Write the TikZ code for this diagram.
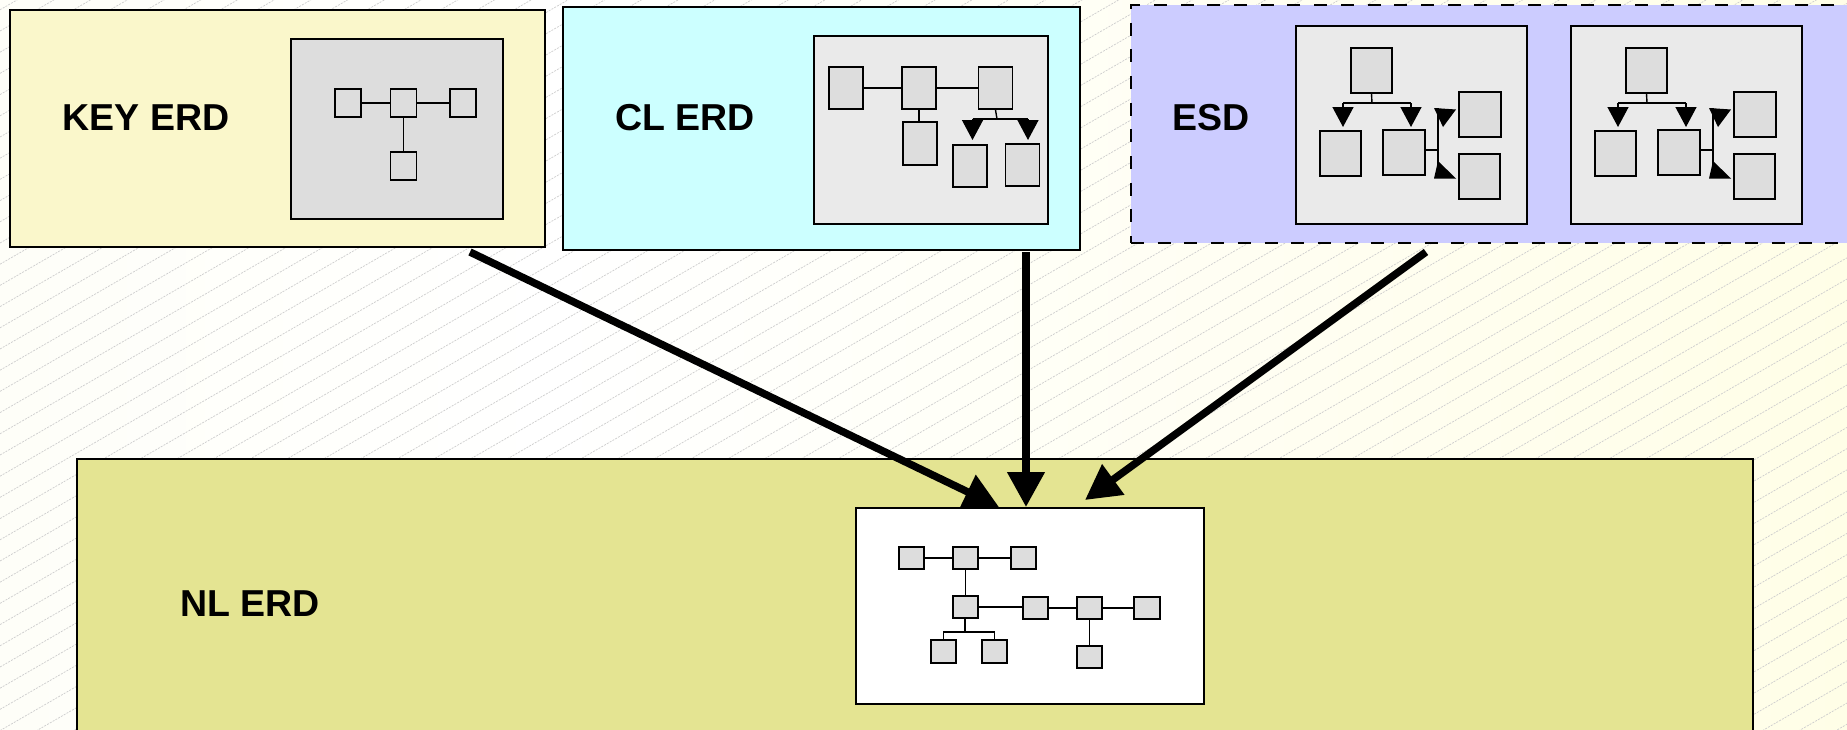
\documentclass[tikz,border=0pt]{standalone}
\usepackage{fontspec}
\setmainfont{Liberation Sans}
\usetikzlibrary{arrows.meta}

\definecolor{keyfill}{RGB}{250,247,203}
\definecolor{clfill}{RGB}{204,255,255}
\definecolor{esdfill}{RGB}{204,204,255}
\definecolor{nlfill}{RGB}{228,228,146}
\definecolor{sqfill}{RGB}{221,221,221}
\definecolor{panelfill}{RGB}{234,234,234}
\definecolor{hatch}{RGB}{205,205,205}
\definecolor{bgL}{RGB}{253,253,236}
\definecolor{bgR}{RGB}{255,253,214}

\pgfdeclarehorizontalshading{bgshade}{100bp}{color(0bp)=(bgL); color(40bp)=(white); color(100bp)=(bgR)}

\tikzset{
  area/.style={draw=black, line width=2pt, inner sep=0pt, anchor=north west},
  panel/.style={draw=black, line width=2pt, inner sep=0pt, anchor=north west},
  ent/.style={draw=black, fill=sqfill, line width=1.7pt, inner sep=0pt},
  conn/.style={line width=1.4pt},
  lbl/.style={font=\bfseries\fontsize{37.5}{40}\selectfont, anchor=base, inner sep=0pt},
  flow/.style={line width=7.5pt, -{Triangle[length=35pt,width=36pt]}},
  minitip/.style={line width=1.4pt, -{Triangle[length=20pt,width=21pt]}}
}

% one entity-structure panel of the ESD area
\newcommand{\esdpanel}[2]{%
  \begin{scope}[xshift=#2pt]
    \node[panel, fill=panelfill, minimum width=231pt, minimum height=198pt] (#1p) at (1295,25) {};
    \node[ent, minimum width=41pt, minimum height=45pt] (#1a) at (1371.5,70.5) {};
    \node[ent, minimum width=41pt, minimum height=45pt] (#1b) at (1340.5,153.5) {};
    \node[ent, minimum width=42pt, minimum height=45pt] (#1c) at (1404,152.5) {};
    \node[ent, minimum width=42pt, minimum height=45pt] (#1d) at (1480,114.5) {};
    \node[ent, minimum width=41pt, minimum height=45pt] (#1e) at (1479.5,176.5) {};
    \coordinate (#1bus) at (1372,103);
    \coordinate (#1bl) at (1343,103);
    \coordinate (#1br) at (1411,103);
    \coordinate (#1vt) at (1438,108);
    \coordinate (#1vb) at (1438,178);
    \draw[conn] (#1a.south) -- (#1bus);
    \draw[conn] (#1bl) -- (#1br);
    \draw[minitip] (#1bl) -- ++(0,24);
    \draw[minitip] (#1br) -- ++(0,24);
    \draw[conn] (#1vt) -- (#1vb);
    \draw[conn] (#1c.east |- 0,150) -- (1438,150);
    \fill (1434,108) -- (1456,109.5) -- (1443,127) -- cycle;
    \fill (1438,161) -- (1456,178.5) -- (1434,178.5) -- cycle;
  \end{scope}}

\begin{document}
\begin{tikzpicture}[x=1pt,y=-1pt]
  \useasboundingbox (0,0) rectangle (1847,729);

  % background: soft tint with fine diagonal hatching
  \begin{scope}
    \clip (0,0) rectangle (1847,729);
    \shade[shading=bgshade] (0,0) rectangle (1847,729);
    \foreach \i in {-1,...,86}{
      \pgfmathsetmacro{\c}{9.8+21.2*\i}
      \draw[hatch, line width=0.7pt, dash pattern=on 2pt off 1.2pt] (0,\c) -- (1847,\c-1066.4);
    }
  \end{scope}

  \begin{scope}
    \clip (0,0) rectangle (1847,729);

    % ---------- KEY ERD ----------
    \node[area, fill=keyfill, minimum width=535pt, minimum height=237pt] (key) at (9,9) {};
    \node[lbl] (keylbl) at (146,130) {KEY ERD};
    \node[panel, fill=sqfill, minimum width=212pt, minimum height=180pt] (keyp) at (290,38) {};
    \node[ent, minimum width=26pt, minimum height=28pt] (k1) at (348,103) {};
    \node[ent, minimum width=26pt, minimum height=28pt] (k2) at (403.5,103) {};
    \node[ent, minimum width=26pt, minimum height=28pt] (k3) at (463,103) {};
    \node[ent, minimum width=26pt, minimum height=28pt] (k4) at (403.5,166) {};
    \draw[conn] (k1.east) -- (k2.west);
    \draw[conn] (k2.east) -- (k3.west);
    \draw[conn] (k2.south) -- (k4.north);

    % ---------- CL ERD ----------
    \node[area, fill=clfill, minimum width=517pt, minimum height=243pt] (cl) at (562,6) {};
    \node[lbl] (cllbl) at (685,130) {CL ERD};
    \node[panel, fill=panelfill, minimum width=234pt, minimum height=188pt] (clp) at (813,35) {};
    \node[ent, minimum width=34pt, minimum height=42pt] (c1) at (846,88) {};
    \node[ent, minimum width=34pt, minimum height=42pt] (c2) at (919,88) {};
    \node[ent, minimum width=34pt, minimum height=42pt] (c3) at (995.5,88) {};
    \node[ent, minimum width=34pt, minimum height=43pt] (c4) at (920,143.5) {};
    \node[ent, minimum width=34pt, minimum height=42pt] (c5) at (970,166) {};
    \node[ent, minimum width=34pt, minimum height=42pt] (c6) at (1022.5,165) {};
    \draw[conn] (c1.east) -- (c2.west);
    \draw[conn] (c2.east) -- (c3.west);
    \draw[conn] (c2.south) -- (c2.south |- c4.north);
    \coordinate (cbus) at (997,119);
    \coordinate (cbl) at (972.5,119);
    \coordinate (cbr) at (1028,119);
    \draw[conn] (c3.south) -- (cbus);
    \draw[conn] (cbl) -- (cbr);
    \draw[minitip] (cbl) -- ++(0,21);
    \draw[minitip] (cbr) -- ++(0,21);

    % ---------- ESD ----------
    \node[area, fill=esdfill, dash pattern=on 13pt off 13.7pt, minimum width=740pt, minimum height=238pt] (esd) at (1130,4) {};
    \node[lbl] (esdlbl) at (1211,130) {ESD};
    \esdpanel{s}{0}
    \esdpanel{t}{275}

    % ---------- NL ERD ----------
    \node[area, fill=nlfill, minimum width=1676pt, minimum height=302pt] (nl) at (76,458) {};
    \node[lbl] (nllbl) at (250,616.5) {NL ERD};

    % flows into the NL ERD
    \coordinate (f1s) at (470,252);
    \coordinate (f1e) at (999,507);
    \coordinate (f2s) at (1026,252);
    \coordinate (f2e) at (1026,507);
    \coordinate (f3s) at (1426,252);
    \coordinate (f3e) at (1085,500);
    \draw[flow] (f1s) -- (f1e);
    \draw[flow] (f2s) -- (f2e);
    \draw[flow] (f3s) -- (f3e);

    \node[panel, fill=white, minimum width=348pt, minimum height=196pt] (nlp) at (855,507) {};
    \node[ent, minimum width=25pt, minimum height=22pt] (nA) at (911.5,558) {};
    \node[ent, minimum width=25pt, minimum height=22pt] (nB) at (965.5,558) {};
    \node[ent, minimum width=25pt, minimum height=22pt] (nC) at (1023.5,558) {};
    \node[ent, minimum width=25pt, minimum height=22pt] (nD) at (965.5,607) {};
    \node[ent, minimum width=25pt, minimum height=22pt] (nE) at (1035.5,608) {};
    \node[ent, minimum width=25pt, minimum height=22pt] (nF) at (1089.5,608) {};
    \node[ent, minimum width=26pt, minimum height=22pt] (nG) at (1147,608) {};
    \node[ent, minimum width=25pt, minimum height=23pt] (nH) at (943.5,651.5) {};
    \node[ent, minimum width=25pt, minimum height=23pt] (nI) at (994.5,651.5) {};
    \node[ent, minimum width=25pt, minimum height=22pt] (nJ) at (1089.5,657) {};
    \draw[conn] (nA.east) -- (nB.west);
    \draw[conn] (nB.east) -- (nC.west);
    \draw[conn] (nB.south) -- (nD.north);
    \draw[conn] (nD.east) -- (nD.east -| nE.west);
    \draw[conn] (nE.east) -- (nF.west);
    \draw[conn] (nF.east) -- (nG.west);
    \draw[conn] (nF.south) -- (nJ.north);
    \coordinate (nbus) at (965,632);
    \draw[conn] (nD.south -| nbus) -- (nbus);
    \draw[conn] (nH.north) -- (nH.north |- nbus) -- (nI.north |- nbus) -- (nI.north);
  \end{scope}
\end{tikzpicture}
\end{document}
